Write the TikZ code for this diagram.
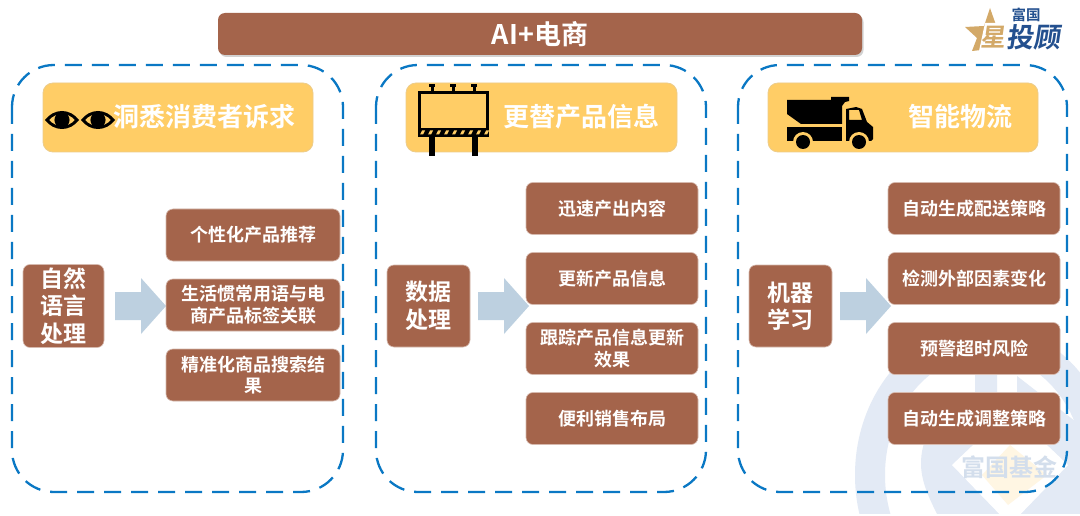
\documentclass[tikz,border=0pt]{standalone}
\usepackage{fontspec}
\setmainfont{Liberation Sans}
\newfontfamily\cjk{Noto Sans CJK SC}[BoldFont={Noto Sans CJK SC Bold}]
\usetikzlibrary{shadows,calc}
\definecolor{brownbox}{HTML}{A4644B}
\definecolor{goldbox}{HTML}{FFCD66}
\definecolor{dashblue}{HTML}{0A78C4}
\definecolor{markblue}{HTML}{E3EAF5}
\definecolor{marktext}{HTML}{D3DEEC}
\definecolor{arrowblue}{HTML}{BDD0E0}
\definecolor{stargold}{HTML}{D3A968}
\definecolor{logoblue}{HTML}{23508F}
\tikzset{
 panel/.style={draw=dashblue,line width=2.3pt,dash pattern=on 17pt off 10pt,rounded corners=42pt},
 headbox/.style={fill=goldbox,draw=goldbox!75!white!85!gray,line width=.8pt,rounded corners=10pt},
 headtext/.style={text=white,font=\cjk\bfseries\fontsize{26}{26}\selectfont,inner sep=0pt},
 sidebox/.style={fill=brownbox,draw=brownbox!45!white,line width=.6pt,rounded corners=7pt,text=white,align=center,inner sep=3pt},
 itemfont/.style={font=\cjk\bfseries\fontsize{18}{21.5}\selectfont},
 sidefont/.style={font=\cjk\bfseries\fontsize{23}{27.5}\selectfont},
 blockarrow/.style={fill=arrowblue,draw=none},
 icon/.style={fill=black,draw=none},
 itembox/.style={sidebox,itemfont,minimum height=52pt}
}
\newcommand{\eyeicon}[2]{%
 \begin{scope}[shift={(#1,#2)}]
  \path[icon,even odd rule] (-17,0) .. controls (-8,-12) and (8,-12) .. (17,0) .. controls (8,12) and (-8,12) .. (-17,0)
     (-13,0) .. controls (-6,8) and (6,8) .. (13,0) .. controls (6,-8) and (-6,-8) .. (-13,0);
  \fill[black] (0,0) circle (7.6);
 \end{scope}}
\newcommand{\arrowat}[2]{\path[blockarrow] (#1,#2-14) -- (#1+26,#2-14) -- (#1+26,#2-28) -- (#1+51,#2) -- (#1+26,#2+28) -- (#1+26,#2+14) -- (#1,#2+14) -- cycle;}
\begin{document}
\begin{tikzpicture}[x=1pt,y=-1pt]
\useasboundingbox (0,0) rectangle (1080,516);
\fill[white] (0,0) rectangle (1080,516);
% watermark
\begin{scope}
 \clip (0,0) rectangle (1080,513);
 \fill[markblue,even odd rule] (985,475) ellipse [x radius=130,y radius=150] (985,475) ellipse [x radius=100,y radius=120];
 \fill[markblue] (940,520) .. controls (925,490) and (915,470) .. (925,440) -- (975,395) -- (975,372) -- (997,372) -- (997,395) -- (1017,395) -- (1017,376) -- (1080,425) -- (1080,520) -- cycle;
 \fill[white] (952,465) -- (1010,410) -- (1068,465) -- (1010,525) -- cycle;
 \fill[goldbox!18!white] (1010,445) -- (1047,475) -- (1008,505) -- (982,475) -- cycle;
\end{scope}
\node[inner sep=0pt,text=marktext,font=\cjk\bfseries\fontsize{24}{24}\selectfont] (wm) at (1009,467) {富国基金};
% title
\path[fill=brownbox,rounded corners=7pt,drop shadow={shadow xshift=1.5pt,shadow yshift=-2pt,opacity=.35}] (218,13) rectangle (862,55) node[midway,inner sep=0pt,text=white,font=\cjk\bfseries\fontsize{27}{27}\selectfont] (title) {AI+电商};
% panels
\draw[panel] (12,65) rectangle (343,492);
\draw[panel] (376,65) rectangle (706,492);
\draw[panel] (738,65) rectangle (1067,492);
% headers
\path[headbox] (43,83) rectangle (313,152);
\path[headbox] (406,83) rectangle (677,152);
\path[headbox] (768,83) rectangle (1038,152);
\node[headtext] (h1t) at (204,117) {洞悉消费者诉求};
\node[headtext] (h2t) at (581,117) {更替产品信息};
\node[headtext] (h3t) at (960,117) {智能物流};
% eyes
\eyeicon{62}{120}\eyeicon{98}{120}
% billboard
\begin{scope}
 \draw[black,line width=3pt] (419,92.5) rectangle (487,130);
 \foreach \x in {432,453,474}{\fill[black] (\x-3,84) rectangle (\x+3,87); \fill[black] (\x-1.5,87) rectangle (\x+1.5,92);}
 \fill[black] (417.5,129) rectangle (489,137);
 \foreach \x in {422,430,...,486}{\fill[goldbox] (\x,130.5) -- (\x+3,130.5) -- (\x+1,134.5) -- (\x-2,134.5) -- cycle;}
 \fill[black] (429,137) rectangle (435,156);
 \fill[black] (471.5,137) rectangle (477.5,156);
\end{scope}
% truck
\begin{scope}
 \path[icon] (787,100) -- (831,100) -- (831,97) -- (849,97) -- (849,101) -- (845,102) -- (842,106) -- (842,124) -- (801,124) -- (787,114) -- cycle;
 \path[icon] (787,127) -- (842,127) -- (842,141) -- (787,141) -- cycle;
 \path[icon,even odd rule] (846,141) -- (846,109) -- (856,107) -- (862,109) -- (867,122) -- (873,127) -- (873,139) -- (871,141) -- cycle
   (849,110) -- (859,110) -- (862,120) -- (849,120) -- cycle;
 \fill[goldbox] (803,142) circle (10);
 \fill[goldbox] (859,142) circle (10);
 \fill[black] (803,142) circle (7);
 \fill[black] (859,142) circle (7);
\end{scope}
% logo
\path[fill=stargold] (990,8) -- (996,25) -- (1006,25) -- (1000,35) -- (1000,48) -- (972,51) -- (977,38) -- (965,27) -- (984,26) -- cycle;
\path[fill=white] (985,23) -- (1008,23) -- (1004,51) -- (979,51) -- cycle;
\node[inner sep=0pt,text=logoblue,font=\cjk\bfseries\fontsize{14.5}{15}\selectfont] (logoa) at (1026,15) {富国};
\node[inner sep=0pt,text=stargold,font=\cjk\bfseries\fontsize{25}{25}\selectfont,xslant=.15] (logob) at (994,37) {星};
\node[inner sep=0pt,text=logoblue,font=\cjk\bfseries\fontsize{27}{27}\selectfont,xslant=.15] (logoc) at (1035,37) {投顾};
% side boxes
\node[sidebox,sidefont,minimum width=81pt,minimum height=82pt] (s1) at (63.5,306) {自然\\语言\\处理};
\node[sidebox,sidefont,minimum width=83pt,minimum height=82pt] (s2) at (428.5,306) {数据\\处理};
\node[sidebox,sidefont,minimum width=83pt,minimum height=82pt] (s3) at (790.5,306) {机器\\学习};
% arrows
\arrowat{115}{306}\arrowat{478}{306}\arrowat{840}{306}
% column 1
\node[itembox,minimum width=174pt,text width=160pt] (a1) at (253,235) {个性化产品推荐};
\node[itembox,minimum width=174pt,text width=160pt] (a2) at (253,305) {生活惯常用语与电\\商产品标签关联};
\node[itembox,minimum width=174pt,text width=160pt] (a3) at (253,375) {精准化商品搜索结\\果};
% column 2
\node[itembox,minimum width=172pt,text width=160pt] (b1) at (612,208.5) {迅速产出内容};
\node[itembox,minimum width=172pt,text width=160pt] (b2) at (612,278.5) {更新产品信息};
\node[itembox,minimum width=172pt,text width=160pt] (b3) at (612,348.5) {跟踪产品信息更新\\效果};
\node[itembox,minimum width=172pt,text width=160pt] (b4) at (612,418.5) {便利销售布局};
% column 3
\node[itembox,minimum width=172pt,text width=164pt] (c1) at (974,208.5) {自动生成配送策略};
\node[itembox,minimum width=172pt,text width=164pt] (c2) at (974,278.5) {检测外部因素变化};
\node[itembox,minimum width=172pt,text width=164pt] (c3) at (974,348.5) {预警超时风险};
\node[itembox,minimum width=172pt,text width=164pt] (c4) at (974,418.5) {自动生成调整策略};
\end{tikzpicture}
\end{document}
